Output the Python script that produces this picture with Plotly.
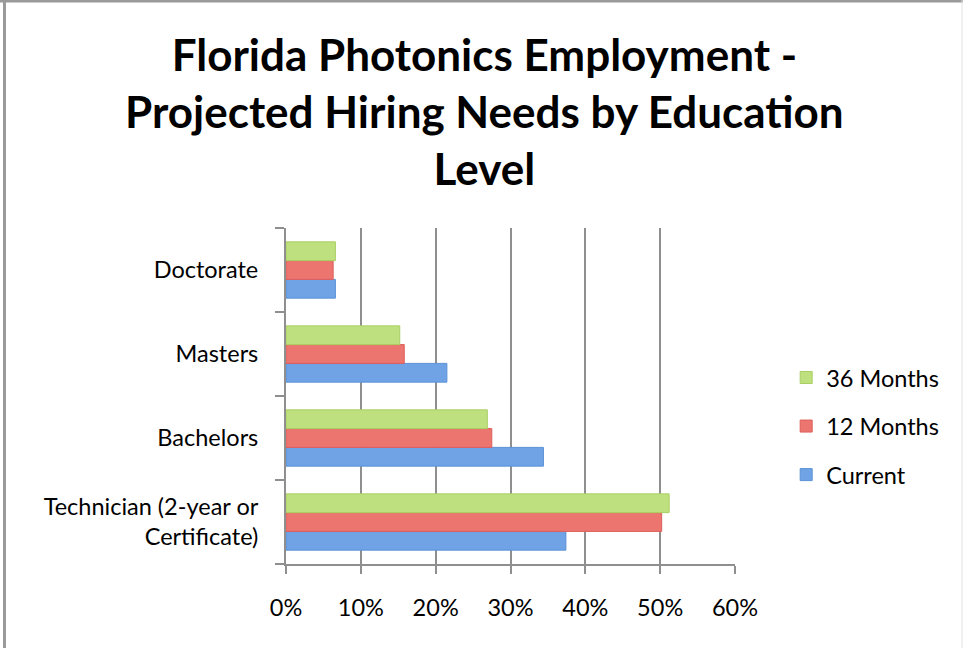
import plotly.graph_objects as go

# Education levels, bottom to top
levels = [
    "Technician (2-year or<br>Certificate)",
    "Bachelors",
    "Masters",
    "Doctorate",
]

# Share of projected hiring needs (%)
current = [37.4, 34.4, 21.5, 6.6]
months_12 = [50.2, 27.5, 15.8, 6.3]
months_36 = [51.2, 26.9, 15.2, 6.6]

series_names = ["Current", "12 Months", "36 Months"]
series_values = [current, months_12, months_36]
series_colors = ["#6fa3e6", "#ec7570", "#bfe07f"]
series_edges = ["#5a90d6", "#dc5e58", "#a9cf62"]

tick_vals = [0, 10, 20, 30, 40, 50, 60]
tick_text = ["0%", "10%", "20%", "30%", "40%", "50%", "60%"]

title_text = ("Florida Photonics Employment -<br>"
              "Projected Hiring Needs by Education<br>Level")

FONT = "Lato, Calibri, 'Open Sans', sans-serif"
GRID = "#8f8f8f"

fig = go.Figure()
for i, (name, vals, col, edge) in enumerate(
        zip(series_names, series_values, series_colors, series_edges)):
    fig.add_trace(go.Bar(
        y=levels,
        x=vals,
        name=name,
        orientation="h",
        legendgroup=f"g{i}",
        legendrank=len(series_names) - i,  # newest horizon listed first
        marker=dict(color=col, line=dict(color=edge, width=1)),
    ))

fig.update_layout(
    width=963,
    height=648,
    paper_bgcolor="white",
    plot_bgcolor="white",
    barmode="group",
    bargap=0.33,
    bargroupgap=0,
    margin=dict(l=286, r=228, t=228, b=84),
    font=dict(family=FONT, size=23.5, color="black"),
    title=dict(
        text=title_text,
        font=dict(family=FONT, size=44, color="black", weight="bold"),
        x=0.503,
        xanchor="center",
        xref="container",
        y=1 - 71 / 648,
        yanchor="middle",
        yref="container",
    ),
    showlegend=True,
    legend=dict(
        traceorder="grouped",
        x=1.114,
        xanchor="left",
        y=0.41,
        yanchor="middle",
        font=dict(family=FONT, size=23.5, color="black"),
        tracegroupgap=15,
        itemwidth=30,
        bgcolor="rgba(0,0,0,0)",
    ),
    xaxis=dict(
        range=[0, 60],
        tickvals=tick_vals,
        ticktext=tick_text,
        showgrid=True,
        gridcolor=GRID,
        gridwidth=2,
        showline=True,
        linecolor=GRID,
        linewidth=2,
        ticks="outside",
        ticklen=8,
        tickwidth=2,
        tickcolor=GRID,
        ticklabelstandoff=14,
        zeroline=False,
        fixedrange=True,
    ),
    yaxis=dict(
        categoryorder="array",
        categoryarray=levels,
        showline=True,
        linecolor=GRID,
        linewidth=2,
        ticks="outside",
        tickson="boundaries",
        ticklen=9,
        tickwidth=2,
        tickcolor=GRID,
        ticklabelstandoff=21,
        showgrid=False,
        fixedrange=True,
    ),
    shapes=[
        # frame edges around the chart area
        dict(type="line", xref="paper", yref="paper",
             x0=-286 / 449, x1=(963 - 286) / 449,
             y0=(648 - 84 - 1) / 336, y1=(648 - 84 - 1) / 336,
             line=dict(color="#9a9a9a", width=3)),
        dict(type="line", xref="paper", yref="paper",
             x0=(4.5 - 286) / 449, x1=(4.5 - 286) / 449,
             y0=-84 / 336, y1=(648 - 84) / 336,
             line=dict(color="#9a9a9a", width=3)),
        dict(type="line", xref="paper", yref="paper",
             x0=(962 - 286) / 449, x1=(962 - 286) / 449,
             y0=-84 / 336, y1=(648 - 84) / 336,
             line=dict(color="#e2e2e2", width=1)),
    ],
)

fig.write_html("out.html")
